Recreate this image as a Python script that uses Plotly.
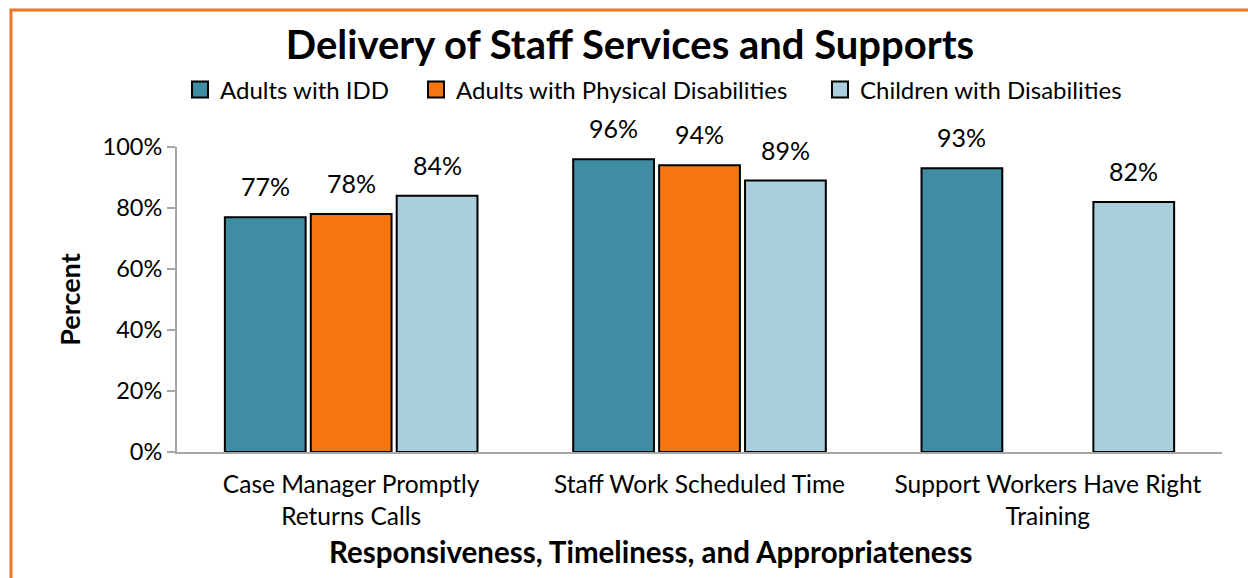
import plotly.graph_objects as go

categories = [
    "Case Manager Promptly<br>Returns Calls",
    "Staff Work Scheduled Time",
    "Support Workers Have Right<br>Training",
]
series_names = [
    "Adults with IDD",
    "Adults with Physical Disabilities",
    "Children with Disabilities",
]
adults_idd = [77, 96, 93]
adults_physical = [78, 94, None]
children = [84, 89, 82]
series_colors = ["#3F8CA3", "#F5760F", "#A9CEDC"]

W, H = 1248, 578
L, R, T, B = 177, 26, 147, 126
FONT = "Lato, 'Open Sans', sans-serif"
BARGAP = 0.26

pw = W - L - R
ph = H - T - B
def px_x(x):
    return (x - L) / pw
def px_y(y):
    return (H - B - y) / ph

fig = go.Figure()
all_series = [adults_idd, adults_physical, children]
legend_ids = ["legend", "legend2", "legend3"]
legend_text_left = [220, 456, 860]

for name, vals, col, lid in zip(series_names, all_series, series_colors, legend_ids):
    fig.add_trace(go.Bar(
        x=categories, y=vals, name=name, legendgroup=name, showlegend=False,
        marker=dict(color=col, line=dict(color="#000000", width=2)),
    ))
    # legend-only entry with a larger square key
    fig.add_trace(go.Scatter(
        x=[None], y=[None], name=name, legendgroup=name, legend=lid,
        mode="markers", hoverinfo="skip",
        marker=dict(symbol="square", size=16, color=col,
                    line=dict(color="#000000", width=2)),
    ))

# value labels above each bar, centred on the bar's slot within its group
slot = pw / len(categories) * (1 - BARGAP) / len(all_series)
for si, vals in enumerate(all_series):
    for cat, v in zip(categories, vals):
        if v is None:
            continue
        fig.add_annotation(
            x=cat, y=v, xref="x", yref="y", text=f"{v}%",
            xshift=(si - 1) * slot, yshift=14, yanchor="bottom",
            showarrow=False, font=dict(size=25, family=FONT, color="#000000"),
        )

# x-axis title
fig.add_annotation(
    x=px_x(651), y=px_y(551), xref="paper", yref="paper",
    text="<b>Responsiveness, Timeliness, and Appropriateness</b>",
    showarrow=False, xanchor="center", yanchor="middle",
    font=dict(size=29.5, family=FONT, color="#000000"),
)

fig.add_shape(type="rect", xref="paper", yref="paper",
              x0=px_x(11), x1=px_x(1300), y0=px_y(10), y1=px_y(640),
              line=dict(color="#EC7424", width=3), fillcolor="rgba(0,0,0,0)")

legend_style = dict(orientation="h", xanchor="left", yanchor="middle",
                    y=px_y(90), font=dict(size=24, family=FONT),
                    itemwidth=30, bgcolor="rgba(0,0,0,0)")
legends = {}
for lid, tx in zip(legend_ids, legend_text_left):
    legends[lid] = dict(legend_style, x=px_x(tx - 40))

fig.update_layout(
    width=W, height=H,
    margin=dict(l=L, r=R, t=T, b=B),
    paper_bgcolor="white", plot_bgcolor="white",
    font=dict(family=FONT, color="#000000", size=20),
    barmode="group", bargap=BARGAP, bargroupgap=0.06,
    title=dict(text="<b>Delivery of Staff Services and Supports</b>",
               x=630 / W, xanchor="center", y=1 - 45 / H, yanchor="middle",
               font=dict(size=40, family=FONT)),
    showlegend=True,
    **legends,
)
fig.update_yaxes(
    range=[0, 100], dtick=20, ticksuffix="%",
    showgrid=False, zeroline=False,
    showline=True, linecolor="#A6A6A6", linewidth=2,
    ticks="outside", ticklen=8, tickcolor="#A6A6A6", tickwidth=2,
    tickfont=dict(size=23.5, family=FONT),
    title=dict(text="<b>Percent</b>", font=dict(size=27, family=FONT), standoff=14),
)
fig.update_xaxes(
    showgrid=False, showline=True, linecolor="#A6A6A6", linewidth=2,
    ticks="outside", ticklen=10, tickcolor="rgba(0,0,0,0)",
    tickfont=dict(size=24.5, family=FONT),
)

fig.write_html("out.html")
